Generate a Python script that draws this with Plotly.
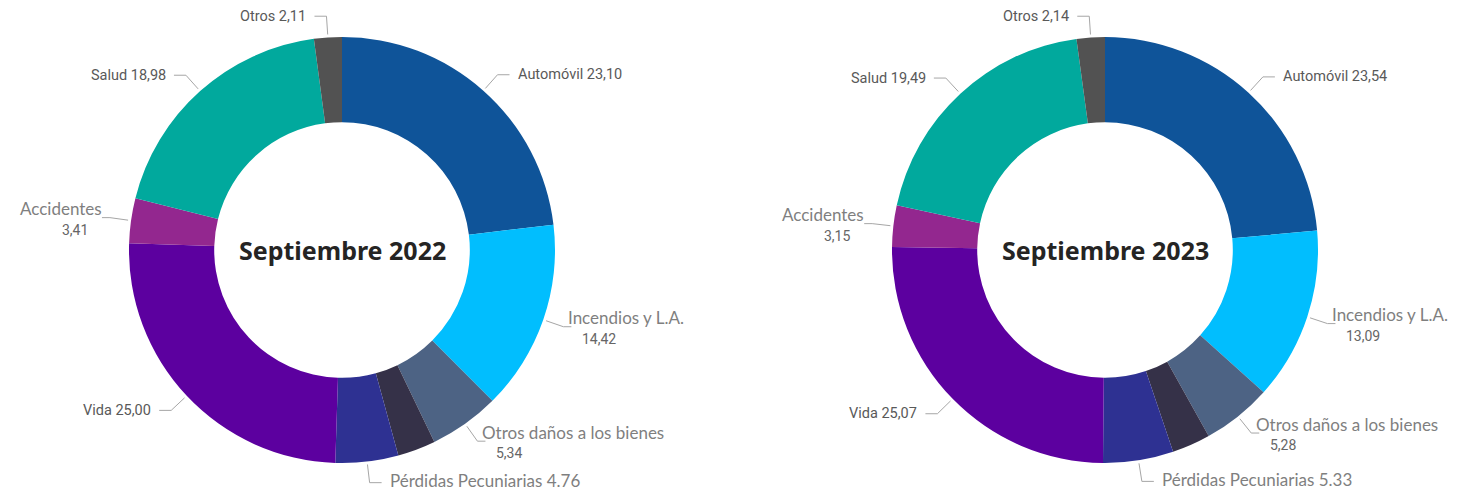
import math
import plotly.graph_objects as go

# ---------------- data ----------------
categories = ["Automóvil", "Incendios y L.A.", "Otros daños a los bienes", "Otro ramo",
              "Pérdidas Pecuniarias", "Vida", "Accidentes", "Salud", "Otros"]
values_2022 = [23.10, 14.42, 5.34, 2.88, 4.76, 25.00, 3.41, 18.98, 2.11]
values_2023 = [23.54, 13.09, 5.28, 2.91, 5.33, 25.07, 3.15, 19.49, 2.14]
titles = ["Septiembre 2022", "Septiembre 2023"]

# ---------------- styles ----------------
colors = ["#0F5499", "#01BEFE", "#4D6384", "#353148", "#2E3192",
          "#5C009F", "#93278F", "#01A99D", "#525252"]
# label style per category: compact (one line), stacked (name + value below), wide (one line, light)
label_style = {
    "Automóvil": "compact", "Incendios y L.A.": "stacked",
    "Otros daños a los bienes": "stacked", "Otro ramo": None,
    "Pérdidas Pecuniarias": "wide", "Vida": "compact", "Accidentes": "stacked",
    "Salud": "compact", "Otros": "compact",
}
period_decimal = {"Pérdidas Pecuniarias"}

WIN_W, WIN_H = 1457, 500
OFF = 8                      # default page body margin
W, H = WIN_W - 2 * OFF, WIN_H - 2 * OFF
centers = [(342, 250), (1105, 250)]   # in window pixels
R = 213
HOLE = 0.6
LINE_COLOR = "#A6A6A6"
COMPACT_FONT = dict(family="Roboto, DejaVu Sans", size=14.5, color="#595959")
LIGHT_FONT = dict(family="Lato, Open Sans", size=17, color="#7F7F7F", weight=400)
VALUE_FONT = dict(family="Roboto, DejaVu Sans", size=14, color="#666666")
TITLE_FONT = dict(family="Noto Sans, Open Sans", size=25, color="#252423", weight="bold")


def fmt(cat, v):
    s = f"{v:.2f}"
    return s if cat in period_decimal else s.replace(".", ",")


fig = go.Figure()
annotations = []


def ann(x, y, text, font, xa, ya="middle"):
    annotations.append(dict(x=x, y=y, xref="x", yref="y", text=text, showarrow=False,
                            font=font, xanchor=xa, yanchor=ya))


for (cx, cy), vals, title in zip(centers, [values_2022, values_2023], titles):
    fig.add_trace(go.Pie(
        labels=categories, values=vals, sort=False, direction="clockwise", rotation=0,
        hole=HOLE, textinfo="none", showlegend=False,
        marker=dict(colors=colors, line=dict(width=0)),
        domain=dict(x=[(cx - R - OFF) / W, (cx + R - OFF) / W],
                    y=[1 - (cy + R - OFF) / H, 1 - (cy - R - OFF) / H]),
        hovertemplate="%{label}: %{value}<extra></extra>",
    ))
    ann(cx, cy, title, TITLE_FONT, "center")

    total = sum(vals)
    cum = 0.0
    for cat, v in zip(categories, vals):
        mid = (cum + v / 2) / total * 360.0
        cum += v
        st = label_style[cat]
        if st is None:
            continue
        a = math.radians(mid)
        sx, sy = cx + (R + 3) * math.sin(a), cy - (R + 3) * math.cos(a)
        ex, ey = cx + (R * 1.10) * math.sin(a), cy - (R * 1.10) * math.cos(a)
        right = mid < 180
        sgn = 1 if right else -1
        xa = "left" if right else "right"
        hlen = 8 if st == "stacked" else 12
        hx = ex + sgn * hlen
        fig.add_trace(go.Scatter(x=[sx, ex, hx], y=[sy, ey, ey], mode="lines",
                                 line=dict(color=LINE_COLOR, width=1),
                                 hoverinfo="skip", showlegend=False))
        if st == "compact":
            ann(hx + sgn * 6, ey, f"{cat} {fmt(cat, v)}", COMPACT_FONT, xa)
        elif st == "wide":
            ann(hx + sgn * 6, ey - 2, f"{cat} {fmt(cat, v)}", LIGHT_FONT, xa)
        else:
            nx = ex + sgn * 3 if right else ex - 6
            ann(nx, ey - 9, cat, LIGHT_FONT, xa)
            vx = nx + 14 if right else nx - 14
            ann(vx, ey + 12, fmt(cat, v), VALUE_FONT, xa)

fig.update_layout(
    width=W, height=H, margin=dict(l=0, r=0, t=0, b=0),
    paper_bgcolor="white", plot_bgcolor="rgba(0,0,0,0)",
    xaxis=dict(range=[OFF, OFF + W], visible=False, fixedrange=True, domain=[0, 1]),
    yaxis=dict(range=[OFF + H, OFF], visible=False, fixedrange=True, domain=[0, 1]),
    annotations=annotations,
)

fig.write_html("out.html")
